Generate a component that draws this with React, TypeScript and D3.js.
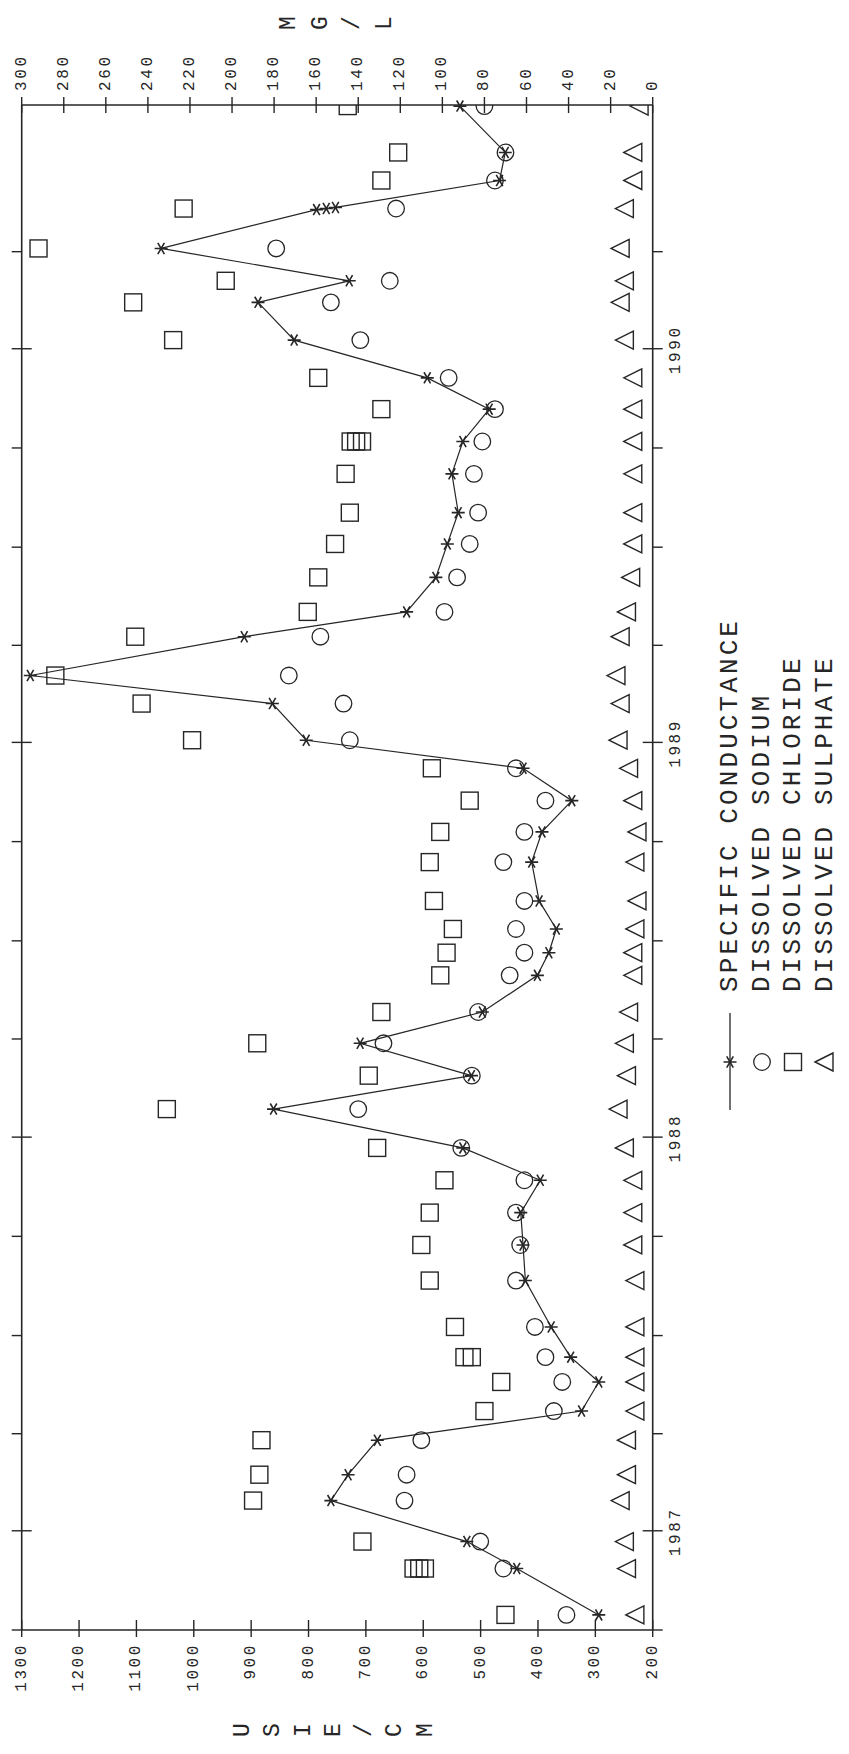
import React from 'react';
import * as d3 from 'd3';

// ---- data ----
const sampleDates = [
  '1986-10-15', '1986-11-27', '1986-12-22', '1987-01-29', '1987-02-22', '1987-03-26',
  '1987-04-22', '1987-05-19', '1987-06-11', '1987-07-09', '1987-08-21', '1987-09-23',
  '1987-10-23', '1987-11-22', '1987-12-22', '1988-01-27', '1988-02-27', '1988-03-28',
  '1988-04-26', '1988-05-30', '1988-06-20', '1988-07-12', '1988-08-07', '1988-09-12',
  '1988-10-10', '1988-11-08', '1988-12-08', '1989-01-03', '1989-02-06', '1989-03-04',
  '1989-04-09', '1989-05-02', '1989-06-03', '1989-07-04', '1989-08-02', '1989-09-07',
  '1989-10-07', '1989-11-06', '1989-12-05', '1990-01-09', '1990-02-13', '1990-03-05',
  '1990-04-04', '1990-05-11', '1990-06-06', '1990-07-02', '1990-08-14',
];
const conductance = [
  294, 437, 524, 761, 731, 680, 324, 294, 343, 377, 422, 426,
  430, 396, 531, 861, 516, 710, 497, 401, 381, 368, 398, 411,
  393, 341, 426, 804, 863, 1285, 912, 629, 578, 558, 539, 550,
  531, 485, 593, 825, 888, 729, 1057, 769, 467, 457, 536,
];
const sodium = [
  41, 71, 82, 118, 117, 110, 47, 43, 51, 56, 65, 63,
  65, 61, 91, 140, 86, 128, 83, 68, 61, 65, 61, 71,
  61, 51, 65, 144, 147, 173, 158, 99, 93, 87, 83, 85,
  81, 75, 97, 139, 153, 125, 179, 122, 75, 70, 80,
];
const chloride = [
  70, 111, 138, 190, 187, 186, 80, 72, 86, 94, 106, 110,
  106, 99, 131, 231, 135, 188, 129, 101, 98, 95, 104, 106,
  101, 87, 105, 219, 243, 284, 246, 164, 159, 151, 144, 146,
  141, 129, 159, 228, 247, 203, 292, 223, 129, 121, 145,
];
const sulphate = [
  8, 12, 13, 15, 12, 12, 8, 8, 8, 8, 8, 9,
  9, 9, 13, 16, 12, 13, 11, 9, 9, 8, 7, 8,
  7, 9, 11, 16, 15, 17, 15, 12, 10, 9, 9, 9,
  9, 9, 9, 13, 15, 13, 15, 13, 9, 9, 6,
];
// repeated measurements drawn on top of each other in the reference
const extraConductanceDates = ['1990-05-10', '1990-05-12'];
const extraConductance = [786, 753];
const extraChlorideDates = ['1986-11-27', '1986-11-27', '1987-06-11', '1989-10-07', '1989-10-07'];
const extraChloride = [108.3, 113.7, 89.5, 138.2, 143.6];

const usTicks = [1300, 1200, 1100, 1000, 900, 800, 700, 600, 500, 400, 300, 200];
const mgTicks = [300, 280, 260, 240, 220, 200, 180, 160, 140, 120, 100, 80, 60, 40, 20, 0];
const yearLabels = ['1987', '1988', '1989', '1990'];
const legendLabels = ['SPECIFIC CONDUCTANCE', 'DISSOLVED SODIUM', 'DISSOLVED CHLORIDE', 'DISSOLVED SULPHATE'];
const usTitle = 'USIE/CM';
const mgTitle = 'MG/L';
const timeStart = '1986-10-01';
const timeEnd = '1990-08-15';
const lastQuarterTick = '1990-04-02';

// ---- layout ----
const W = 849;
const H = 1754;
const L = 21.7;
const R = 652.7;
const T = 105;
const B = 1630;
const INK = '#262626';
const FONT = '"Liberation Mono", "DejaVu Sans Mono", monospace';

const parse = d3.timeParse('%Y-%m-%d');

const yTime = d3.scaleTime().domain([parse(timeStart)!, parse(timeEnd)!]).range([B, T]);
const xUS = d3.scaleLinear().domain([1300, 200]).range([L, R]);
const xMG = d3.scaleLinear().domain([300, 0]).range([L, R]);

const starPath = 'M-6.5,0L6.5,0M-3.3,-5.6L3.3,5.6M3.3,-5.6L-3.3,5.6';
const triPath = 'M-10,0L8,-9L8,9Z';

function Star({ x, y }: { x: number; y: number }) {
  return <path d={starPath} transform={`translate(${x},${y})`} stroke={INK} strokeWidth={1.6} fill="none" />;
}
function Circ({ x, y }: { x: number; y: number }) {
  return <circle cx={x} cy={y} r={8.3} stroke={INK} strokeWidth={1.3} fill="none" />;
}
function Sq({ x, y }: { x: number; y: number }) {
  return <rect x={x - 8.5} y={y - 8.5} width={17} height={17} stroke={INK} strokeWidth={1.4} fill="none" />;
}
function Tri({ x, y }: { x: number; y: number }) {
  return <path d={triPath} transform={`translate(${x},${y})`} stroke={INK} strokeWidth={1.4} fill="none" strokeLinejoin="miter" />;
}

function RText({ x, y, children, anchor = 'middle', size = 16, spacing = 2.5 }: any) {
  return (
    <text
      transform={`translate(${x},${y}) rotate(-90)`}
      textAnchor={anchor}
      dominantBaseline="central"
      fontFamily={FONT}
      fontSize={size}
      letterSpacing={spacing}
      fill={INK}
    >
      {children}
    </text>
  );
}

export default function App() {
  const dates = sampleDates.map((d) => parse(d)!);

  const condPts = dates
    .map((d, i) => ({ d, v: conductance[i] }))
    .concat(extraConductanceDates.map((d, i) => ({ d: parse(d)!, v: extraConductance[i] })))
    .sort((a, b) => +a.d - +b.d);

  const line = d3
    .line<{ d: Date; v: number }>()
    .x((p) => xUS(p.v))
    .y((p) => yTime(p.d));

  const clPts = dates
    .map((d, i) => ({ d, v: chloride[i] }))
    .concat(extraChlorideDates.map((d, i) => ({ d: parse(d)!, v: extraChloride[i] })));

  const quarterTicks = d3.timeMonth.every(3)!.range(parse(timeStart)!, parse(lastQuarterTick)!);
  const yearTicks = quarterTicks.filter((d) => d.getMonth() === 0);

  const legendX = [730, 762, 793, 825];
  const legendSymY = 1062;
  const legendTextY = 992;

  return (
    <div style={{ position: 'absolute', left: 0, top: 0, width: W, height: H, background: '#fff' }}>
      <svg width={W} height={H} viewBox={`0 0 ${W} ${H}`} style={{ display: 'block' }}>
        <defs>
          <clipPath id="plotClip">
            <rect x={L} y={T} width={R - L} height={B - T} />
          </clipPath>
        </defs>
        <rect x={0} y={0} width={W} height={H} fill="#fff" />
        {/* frame */}
        <g stroke={INK} strokeWidth={1.6} fill="none">
          <line x1={L} y1={T} x2={L} y2={B} />
          <line x1={R} y1={T} x2={R} y2={B} />
          <line x1={L} y1={T} x2={R} y2={T} />
          <line x1={L} y1={B} x2={R} y2={B} />
        </g>
        {/* time ticks */}
        <g stroke={INK} strokeWidth={1.4}>
          {quarterTicks.map((d, i) => {
            const y = yTime(d);
            const yr = d.getMonth() === 0;
            return (
              <g key={i}>
                <line x1={L - 10} y1={y} x2={yr ? L + 10 : L} y2={y} />
                <line x1={yr ? R - 10 : R} y1={y} x2={R + 10} y2={y} />
              </g>
            );
          })}
        </g>
        {yearTicks.map((d, i) => (
          <RText key={i} x={R + 23} y={yTime(d) + 1} anchor="middle" size={16} spacing={2.6}>
            {yearLabels[i]}
          </RText>
        ))}
        {/* bottom value axis (uS/cm) */}
        <g stroke={INK} strokeWidth={1.4}>
          {usTicks.map((v) => (
            <line key={v} x1={xUS(v)} y1={B - 10} x2={xUS(v)} y2={B + 7} />
          ))}
        </g>
        {usTicks.map((v) => (
          <RText key={v} x={xUS(v)} y={B + 13} anchor="end" size={16} spacing={2.6}>
            {String(v)}
          </RText>
        ))}
        {/* top value axis (mg/L) */}
        <g stroke={INK} strokeWidth={1.4}>
          {mgTicks.map((v) => (
            <line key={v} x1={xMG(v)} y1={T - 8} x2={xMG(v)} y2={T + 8} />
          ))}
        </g>
        {mgTicks.map((v) => (
          <RText key={v} x={xMG(v)} y={T - 14} anchor="start" size={16} spacing={2.6}>
            {String(v)}
          </RText>
        ))}
        {/* axis titles, one glyph per step */}
        {mgTitle.split('').map((c, i) => (
          <RText key={i} x={(L + R) / 2 + (i - (mgTitle.length - 1) / 2) * 32} y={23} size={23} spacing={0}>
            {c}
          </RText>
        ))}
        {usTitle.split('').map((c, i) => (
          <RText key={i} x={(L + R) / 2 - 3 + (i - (usTitle.length - 1) / 2) * 30.5} y={1730} size={23} spacing={0}>
            {c}
          </RText>
        ))}
        {/* series */}
        <path d={line(condPts) || ''} fill="none" stroke={INK} strokeWidth={1.2} />
        <g clipPath="url(#plotClip)">
          {sulphate.map((v, i) => (
            <Tri key={'t' + i} x={xMG(v)} y={yTime(dates[i])} />
          ))}
          {clPts.map((p, i) => (
            <Sq key={'s' + i} x={xMG(p.v)} y={yTime(p.d)} />
          ))}
          {sodium.map((v, i) => (
            <Circ key={'c' + i} x={xMG(v)} y={yTime(dates[i])} />
          ))}
        </g>
        {condPts.map((p, i) => (
          <Star key={'k' + i} x={xUS(p.v)} y={yTime(p.d)} />
        ))}
        {/* legend */}
        <line x1={legendX[0]} y1={1013} x2={legendX[0]} y2={1110} stroke={INK} strokeWidth={1.3} />
        <Star x={legendX[0]} y={legendSymY} />
        <Circ x={legendX[1]} y={legendSymY} />
        <Sq x={legendX[2]} y={legendSymY} />
        <Tri x={legendX[3]} y={legendSymY} />
        {legendLabels.map((t, i) => (
          <RText key={t} x={legendX[i]} y={legendTextY} anchor="start" size={26} spacing={3.1}>
            {t}
          </RText>
        ))}
      </svg>
    </div>
  );
}
